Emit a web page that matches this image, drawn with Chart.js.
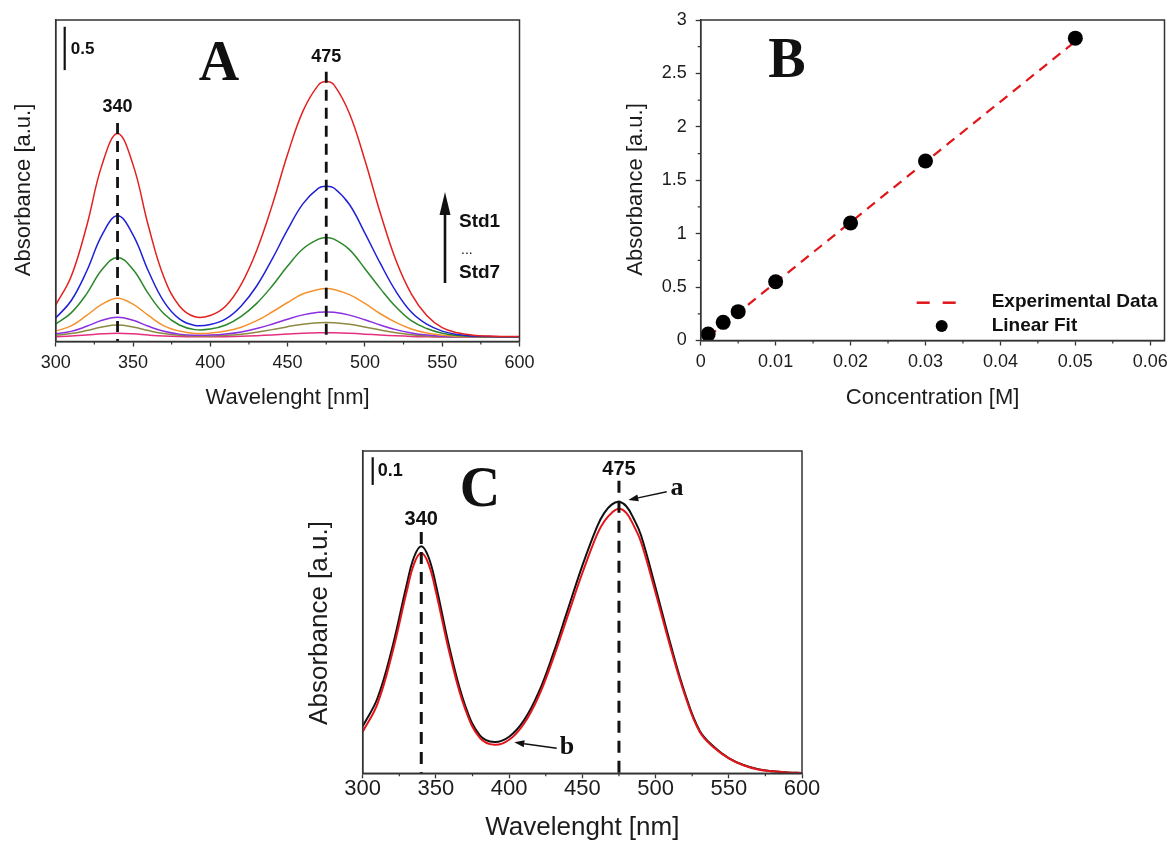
<!DOCTYPE html>
<html>
<head>
<meta charset="utf-8">
<script src="https://cdn.jsdelivr.net/npm/chart.js@4.4.1/dist/chart.umd.min.js"></script>
<style>
  body { margin: 0; background: #fff; width: 1172px; height: 841px; position: relative; overflow: hidden; }
  canvas { position: absolute; }
  #chartA { left: 0; top: 0; }
  #chartB { left: 580px; top: 0; }
  #chartC { left: 280px; top: 420px; }
</style>
</head>
<body>
<canvas id="chartA" width="545" height="420"></canvas>
<canvas id="chartB" width="592" height="420"></canvas>
<canvas id="chartC" width="550" height="430"></canvas>
<script>
// ---------- data ----------
const wavelengths = [300, 310, 320, 330, 340, 350, 360, 370, 380, 390, 400, 410, 420, 430, 440, 450,
  460, 470, 475, 480, 490, 500, 510, 520, 530, 540, 550, 560, 570, 580, 590, 600];

// panel A, standards (Std1 = highest)
const std1 = [0.42, 0.75, 1.33, 2.04, 2.40, 2.04, 1.33, 0.74, 0.41, 0.285, 0.30, 0.41, 0.66, 1.05, 1.57, 2.16,
  2.66, 2.96, 3.00, 2.96, 2.63, 2.09, 1.48, 0.94, 0.55, 0.30, 0.16, 0.10, 0.072, 0.062, 0.058, 0.057];
const std2 = [0.27, 0.47, 0.81, 1.23, 1.45, 1.23, 0.81, 0.46, 0.26, 0.185, 0.195, 0.26, 0.41, 0.64, 0.95, 1.29,
  1.59, 1.77, 1.79, 1.77, 1.58, 1.25, 0.90, 0.58, 0.34, 0.20, 0.12, 0.08, 0.063, 0.057, 0.055, 0.054];
const std3 = [0.20, 0.33, 0.55, 0.83, 0.97, 0.83, 0.55, 0.32, 0.19, 0.137, 0.143, 0.19, 0.29, 0.44, 0.64, 0.87,
  1.07, 1.18, 1.20, 1.18, 1.06, 0.84, 0.61, 0.40, 0.24, 0.15, 0.094, 0.07, 0.059, 0.055, 0.053, 0.053];
const std4 = [0.12, 0.18, 0.30, 0.43, 0.50, 0.43, 0.30, 0.18, 0.12, 0.093, 0.097, 0.12, 0.165, 0.24, 0.34, 0.45,
  0.55, 0.60, 0.61, 0.60, 0.54, 0.44, 0.32, 0.22, 0.144, 0.097, 0.072, 0.059, 0.054, 0.052, 0.051, 0.051];
const std5 = [0.09, 0.117, 0.175, 0.244, 0.28, 0.244, 0.175, 0.118, 0.085, 0.073, 0.074, 0.086, 0.11, 0.149, 0.20, 0.257,
  0.307, 0.336, 0.34, 0.336, 0.304, 0.251, 0.19, 0.137, 0.099, 0.074, 0.061, 0.055, 0.052, 0.051, 0.05, 0.05];
const std6 = [0.072, 0.091, 0.126, 0.168, 0.19, 0.168, 0.126, 0.091, 0.071, 0.064, 0.064, 0.071, 0.085, 0.108, 0.137, 0.171,
  0.20, 0.217, 0.22, 0.217, 0.198, 0.167, 0.132, 0.101, 0.078, 0.064, 0.056, 0.052, 0.051, 0.05, 0.05, 0.05];
const std7 = [0.056, 0.063, 0.074, 0.088, 0.095, 0.088, 0.074, 0.063, 0.057, 0.054, 0.054, 0.056, 0.06, 0.067, 0.076, 0.086,
  0.095, 0.1, 0.1, 0.1, 0.094, 0.085, 0.074, 0.065, 0.058, 0.054, 0.052, 0.05, 0.05, 0.05, 0.05, 0.05];
const stdColors = ['#e3201e', '#2020d8', '#2a872a', '#f5922e', '#8a2ee0', '#8c8a40', '#e4307e'];

// panel C, spectra a and b (denser near the peaks)
const wavelengthsC = [300, 310, 320, 330, 335, 340, 345, 350, 360, 370, 380, 390, 400, 410, 420, 430, 440, 450,
  460, 465, 470, 475, 480, 485, 490, 500, 510, 520, 530, 540, 550, 560, 570, 580, 590, 600];
const spectrumA = [0.17, 0.27, 0.45, 0.68, 0.78, 0.82, 0.78, 0.68, 0.436, 0.244, 0.137, 0.113, 0.132, 0.19, 0.29, 0.43, 0.59, 0.75,
  0.89, 0.94, 0.97, 0.98, 0.964, 0.92, 0.86, 0.67, 0.47, 0.29, 0.155, 0.095, 0.055, 0.03, 0.015, 0.007, 0.003, 0.001];
const spectrumB = [0.15, 0.25, 0.43, 0.655, 0.755, 0.795, 0.755, 0.655, 0.418, 0.232, 0.128, 0.103, 0.121, 0.178, 0.276, 0.413, 0.568, 0.723,
  0.862, 0.91, 0.94, 0.955, 0.94, 0.895, 0.836, 0.652, 0.458, 0.283, 0.151, 0.092, 0.054, 0.029, 0.014, 0.007, 0.003, 0.001];

// panel B, calibration
const concentration = [0.001, 0.003, 0.005, 0.01, 0.02, 0.03, 0.05];
const absorbance = [0.06, 0.17, 0.27, 0.55, 1.10, 1.68, 2.83];
const fitConc = [0.001, 0.05];
const fitAbs = [0.035, 2.80];

// ticks
const waveTicks = [300, 350, 400, 450, 500, 550, 600];
const waveLabels = ['300', '350', '400', '450', '500', '550', '600'];
const waveMinor = [325, 375, 425, 475, 525, 575];
const concTicks = [0, 0.01, 0.02, 0.03, 0.04, 0.05, 0.06];
const concLabels = ['0', '0.01', '0.02', '0.03', '0.04', '0.05', '0.06'];
const concMinor = [0.005, 0.015, 0.025, 0.035, 0.045, 0.055];
const absTicks = [0, 0.5, 1, 1.5, 2, 2.5, 3];
const absLabels = ['0', '0.5', '1', '1.5', '2', '2.5', '3'];
const absMinor = [0.25, 0.75, 1.25, 1.75, 2.25, 2.75];

// ---------- helpers ----------
const FONT = "'Liberation Sans', Arial, sans-serif";
const SERIF = "'Liberation Serif', 'Times New Roman', serif";
const AXIS = '#333';
const INK = '#1c1c1c';

function pts(xs, ys) {
  return xs.map((v, i) => ({ x: v, y: ys[i] }));
}

function bottomAxis(min, max, ticks, labels, size, title, titleSize, titlePad, height, tickPad) {
  return {
    type: 'linear', position: 'bottom', min: min, max: max,
    afterBuildTicks: s => { s.ticks = ticks.map(v => ({ value: v })); },
    afterFit: s => { s.height = height; s.paddingLeft = 0; s.paddingRight = 0; },
    ticks: {
      autoSkip: false, maxRotation: 0, padding: tickPad, color: INK,
      font: { family: FONT, size: size, lineHeight: 1.2 },
      callback: v => labels[ticks.indexOf(v)]
    },
    grid: { drawOnChartArea: false, tickLength: 5, tickWidth: 1.3, tickColor: AXIS, color: AXIS },
    border: { display: true, color: AXIS, width: 1.5 },
    title: {
      display: true, text: title, color: INK,
      font: { family: FONT, size: titleSize, lineHeight: 1.2 },
      padding: { top: 0, bottom: titlePad }
    }
  };
}

function leftAxis(min, max, ticks, labels, size, title, titleSize, titlePad, width, tickPad) {
  const show = ticks.length > 0;
  const ax = {
    type: 'linear', position: 'left', min: min, max: max,
    afterFit: s => { s.width = width; s.paddingTop = 0; s.paddingBottom = 0; },
    ticks: {
      display: show, autoSkip: false, padding: tickPad, color: INK,
      font: { family: FONT, size: size, lineHeight: 1.2 },
      callback: v => labels[ticks.indexOf(v)]
    },
    grid: { display: show, drawOnChartArea: false, tickLength: 5, tickWidth: 1.3, tickColor: AXIS, color: AXIS },
    border: { display: true, color: AXIS, width: 1.5 },
    title: {
      display: true, text: title, color: INK,
      font: { family: FONT, size: titleSize, lineHeight: 1.2 },
      padding: { top: titlePad, bottom: 0 }
    }
  };
  if (show) ax.afterBuildTicks = s => { s.ticks = ticks.map(v => ({ value: v })); };
  return ax;
}

function frame(ctx, a) {
  ctx.strokeStyle = AXIS;
  ctx.lineWidth = 1.5;
  ctx.setLineDash([]);
  ctx.strokeRect(a.left, a.top, a.right - a.left, a.bottom - a.top);
}

function minorTicks(ctx, a, x, y, xs, ys, len) {
  ctx.strokeStyle = AXIS;
  ctx.lineWidth = 1.2;
  ctx.beginPath();
  xs.forEach(v => {
    const p = x.getPixelForValue(v);
    ctx.moveTo(p, a.bottom); ctx.lineTo(p, a.bottom + len);
  });
  ys.forEach(v => {
    const p = y.getPixelForValue(v);
    ctx.moveTo(a.left, p); ctx.lineTo(a.left - len, p);
  });
  ctx.stroke();
}

function label(ctx, str, x, y, font, align) {
  ctx.font = font;
  ctx.fillStyle = '#111';
  ctx.textAlign = align || 'center';
  ctx.textBaseline = 'middle';
  ctx.fillText(str, x, y);
}

function arrow(ctx, x1, y1, x2, y2, headW, headL, lw) {
  const ang = Math.atan2(y2 - y1, x2 - x1);
  const bx = x2 - headL * Math.cos(ang), by = y2 - headL * Math.sin(ang);
  ctx.strokeStyle = '#111';
  ctx.fillStyle = '#111';
  ctx.lineWidth = lw;
  ctx.setLineDash([]);
  ctx.beginPath(); ctx.moveTo(x1, y1); ctx.lineTo(bx, by); ctx.stroke();
  ctx.beginPath();
  ctx.moveTo(x2, y2);
  ctx.lineTo(bx + headW / 2 * Math.sin(ang), by - headW / 2 * Math.cos(ang));
  ctx.lineTo(bx - headW / 2 * Math.sin(ang), by + headW / 2 * Math.cos(ang));
  ctx.closePath(); ctx.fill();
}

function peakLine(x, top, dash, width) {
  return {
    data: [{ x: x, y: top }, { x: x, y: 0 }],
    borderColor: '#111', borderWidth: width, borderDash: dash,
    pointRadius: 0, tension: 0
  };
}

const base = {
  responsive: false, animation: false,
  plugins: { legend: { display: false }, tooltip: { enabled: false } },
  elements: { point: { radius: 0 } }
};

// ---------- panel A ----------
const stds = [std1, std2, std3, std4, std5, std6, std7];
new Chart(document.getElementById('chartA'), {
  type: 'line',
  data: {
    datasets: [
      peakLine(340, 2.52, [11, 7], 2.8),
      peakLine(475, 3.11, [11, 7], 2.8)
    ].concat(stds.map((s, i) => ({
      data: pts(wavelengths, s), borderColor: stdColors[i], borderWidth: 1.5, tension: 0.4
    })))
  },
  options: Object.assign({}, base, {
    layout: { padding: { left: 0, top: 20, right: 25.5, bottom: 0 } },
    scales: {
      x: bottomAxis(300, 600, waveTicks, waveLabels, 18, 'Wavelenght [nm]', 22, 8.8, 78.5, 5.4),
      y: leftAxis(0, 3.708, [], [], 18, 'Absorbance [a.u.]   ', 22, 10.8, 55.7, 0)
    }
  }),
  plugins: [{
    id: 'decorA',
    afterDraw(chart) {
      const { ctx, chartArea: a, scales: { x, y } } = chart;
      ctx.save();
      frame(ctx, a);
      minorTicks(ctx, a, x, y, waveMinor, [], 3);
      // 0.5 scale bar
      ctx.strokeStyle = '#111'; ctx.lineWidth = 2.2;
      ctx.beginPath();
      ctx.moveTo(a.left + 9, y.getPixelForValue(3.63));
      ctx.lineTo(a.left + 9, y.getPixelForValue(3.13));
      ctx.stroke();
      label(ctx, '0.5', a.left + 15, 49, 'bold 17px ' + FONT, 'left');
      label(ctx, 'A', 219, 66, 'bold 56px ' + SERIF);
      label(ctx, '340', x.getPixelForValue(340), 107, 'bold 18px ' + FONT);
      label(ctx, '475', x.getPixelForValue(475), 57, 'bold 18px ' + FONT);
      arrow(ctx, 445, 283, 445, 192, 11, 23, 2.6);
      label(ctx, 'Std1', 459, 222, 'bold 19px ' + FONT, 'left');
      label(ctx, '...', 461, 250, '14px ' + FONT, 'left');
      label(ctx, 'Std7', 459, 273, 'bold 19px ' + FONT, 'left');
      ctx.restore();
    }
  }]
});

// ---------- panel B ----------
new Chart(document.getElementById('chartB'), {
  type: 'line',
  data: {
    datasets: [
      {
        data: pts(concentration, absorbance), showLine: false,
        pointRadius: 7.5, pointBackgroundColor: '#000', pointBorderWidth: 0
      },
      {
        data: pts(fitConc, fitAbs), borderColor: '#e0161b', borderWidth: 2.2,
        borderDash: [10, 7], pointRadius: 0, tension: 0
      }
    ]
  },
  options: Object.assign({}, base, {
    layout: { padding: { left: 0, top: 20, right: 7, bottom: 0 } },
    scales: {
      x: bottomAxis(0, 0.0619, concTicks, concLabels, 18, 'Concentration [M]', 22, 8.8, 79.5, 5.7),
      y: leftAxis(0, 3, absTicks, absLabels, 18, 'Absorbance [a.u.]   ', 22, 42.4, 120.7, 9)
    }
  }),
  plugins: [{
    id: 'decorB',
    afterDraw(chart) {
      const { ctx, chartArea: a, scales: { x, y } } = chart;
      ctx.save();
      frame(ctx, a);
      minorTicks(ctx, a, x, y, concMinor, absMinor, 3);
      label(ctx, 'B', 207, 63, 'bold 56px ' + SERIF);
      // legend
      ctx.strokeStyle = '#e0161b'; ctx.lineWidth = 2.5;
      ctx.setLineDash([13, 13]);
      ctx.beginPath(); ctx.moveTo(336.7, 302.7); ctx.lineTo(376.7, 302.7); ctx.stroke();
      ctx.setLineDash([]);
      label(ctx, 'Experimental Data', 411.7, 302, 'bold 19px ' + FONT, 'left');
      ctx.fillStyle = '#000';
      ctx.beginPath(); ctx.arc(361.7, 326, 6, 0, Math.PI * 2); ctx.fill();
      label(ctx, 'Linear Fit', 411.7, 326, 'bold 19px ' + FONT, 'left');
      ctx.restore();
    }
  }]
});

// ---------- panel C ----------
new Chart(document.getElementById('chartC'), {
  type: 'line',
  data: {
    datasets: [
      peakLine(340, 0.871, [12, 8], 3),
      peakLine(475, 1.056, [12, 8], 3),
      { data: pts(wavelengthsC, spectrumB), borderColor: '#e3151b', borderWidth: 2, tension: 0.4 },
      { data: pts(wavelengthsC, spectrumA), borderColor: '#111', borderWidth: 2, tension: 0.4 }
    ]
  },
  options: Object.assign({}, base, {
    layout: { padding: { left: 0, top: 31, right: 28, bottom: 0 } },
    scales: {
      x: bottomAxis(300, 600, waveTicks, waveLabels, 22, 'Wavelenght [nm]', 26, 6.9, 76.7, -3),
      y: leftAxis(0, 1.1635, [], [], 22, 'Absorbance [a.u.]   ', 26, 24.4, 82.7, 0)
    }
  }),
  plugins: [{
    id: 'decorC',
    afterDraw(chart) {
      const { ctx, chartArea: a, scales: { x, y } } = chart;
      ctx.save();
      frame(ctx, a);
      minorTicks(ctx, a, x, y, waveMinor, [], 3);
      // 0.1 scale bar
      ctx.strokeStyle = '#111'; ctx.lineWidth = 2.2;
      ctx.beginPath();
      ctx.moveTo(a.left + 10, y.getPixelForValue(1.141));
      ctx.lineTo(a.left + 10, y.getPixelForValue(1.041));
      ctx.stroke();
      label(ctx, '0.1', a.left + 15, 51, 'bold 18px ' + FONT, 'left');
      label(ctx, 'C', 200, 72, 'bold 56px ' + SERIF);
      label(ctx, '340', x.getPixelForValue(340), 99, 'bold 20px ' + FONT);
      label(ctx, '475', x.getPixelForValue(475), 49, 'bold 20px ' + FONT);
      arrow(ctx, 386.7, 71.7, 348.3, 80, 7, 10, 1.4);
      label(ctx, 'a', 397, 68, 'bold 26px ' + SERIF);
      arrow(ctx, 276.7, 328.3, 234.3, 322.3, 7, 10, 1.4);
      label(ctx, 'b', 287, 327, 'bold 26px ' + SERIF);
      ctx.restore();
    }
  }]
});
</script>
</body>
</html>
